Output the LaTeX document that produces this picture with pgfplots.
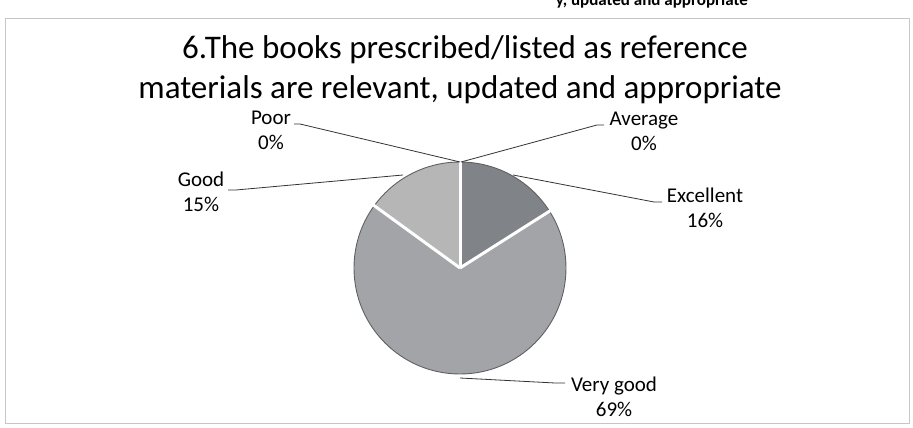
\documentclass[border=0pt]{standalone}
\usepackage{pgfplots}
\pgfplotsset{compat=1.18}
\usepackage{pgfplotstable}
\usepackage{fontspec}
\setmainfont{Carlito}

\definecolor{slice0}{HTML}{808388}
\definecolor{slice1}{HTML}{A2A4A7}
\definecolor{slice2}{HTML}{B6B6B6}
\definecolor{slice3}{HTML}{C8C8C8}
\definecolor{slice4}{HTML}{D0D0D0}
\definecolor{rim}{HTML}{5E6064}

% share of answers, clockwise from 12 o'clock
\pgfplotstableread{
label value
Excellent 16
{Very good} 69
Good 15
Poor 0
Average 0
}\piedata

\begin{document}
\begin{tikzpicture}
% start / end angle of every slice
\def\cum{0}
\pgfplotsforeachungrouped \i in {0,...,4}{%
  \pgfplotstablegetelem{\i}{value}\of\piedata
  \let\v=\pgfplotsretval
  \pgfmathsetmacro\a{90-3.6*\cum}%
  \pgfmathsetmacro\b{90-3.6*(\cum+\v)}%
  \expandafter\xdef\csname sa\i\endcsname{\a}%
  \expandafter\xdef\csname ea\i\endcsname{\b}%
  \pgfmathsetmacro\cum{\cum+\v}%
}
\begin{axis}[
    width=913pt, height=428pt,
    scale only axis,
    xmin=0, xmax=913,
    ymin=-428, ymax=0,
    hide axis,
    clip=false,
]
% chart frame
\draw[gray!45, line width=0.7pt] (5,-18) rectangle (909,-423);

% slices
\pgfplotsinvokeforeach{0,...,4}{
  \fill[slice#1] (460,-268) -- ++(\csname sa#1\endcsname:106pt)
      arc[start angle=\csname sa#1\endcsname, end angle=\csname ea#1\endcsname, radius=106pt] -- cycle;
}
\draw[rim, line width=0.9pt] (460,-268) circle[radius=106pt];
\pgfplotsinvokeforeach{0,...,4}{
  \draw[white, line width=3pt] (460,-268) -- ++(\csname sa#1\endcsname:107pt);
}

% leader lines
\draw[black!80, line width=0.8pt] (294,-124) -- (300,-124) -- (460,-162);
\draw[black!80, line width=0.8pt] (604,-125) -- (597,-125) -- (461,-162);
\draw[black!80, line width=0.8pt] (228,-190) -- (236,-190) -- (403,-175);
\draw[black!80, line width=0.8pt] (662,-202) -- (654,-202) -- (513,-175);
\draw[black!80, line width=0.8pt] (565,-383) -- (555,-383) -- (460,-378);

% data labels
\tikzset{lbl/.style={align=center, inner sep=0pt, font=\fontsize{21}{25}\selectfont}}
\node[lbl] at (271,-130) {Poor\\0\%};
\node[lbl] at (644,-131) {Average\\0\%};
\node[lbl] at (201,-192) {Good\\15\%};
\node[lbl] at (705,-208) {Excellent\\16\%};
\node[lbl] at (614,-397) {Very good\\69\%};

% title
\node[anchor=base, font=\fontsize{33}{35}\selectfont] at (465,-59) {6.The books prescribed/listed as reference};
\node[anchor=base, font=\fontsize{33}{35}\selectfont] at (460,-99) {materials are relevant, updated and appropriate};

% text of the page above, cut by the scan
\node[anchor=base east, inner sep=0pt, font=\bfseries\fontsize{17}{17}\selectfont] at (748,-6) {y, updated and appropriate};
\end{axis}
\pgfresetboundingbox
\path (current axis.south west) rectangle (current axis.north east);
\end{tikzpicture}
\end{document}
